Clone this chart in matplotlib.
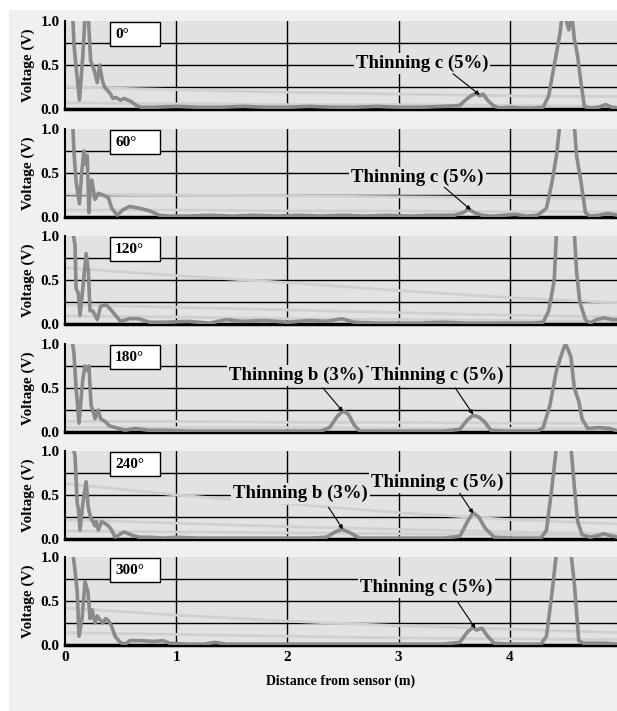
import matplotlib
matplotlib.use("Agg")
import matplotlib.pyplot as plt
from matplotlib.patches import Rectangle

plt.rcParams["font.family"] = ["Liberation Serif", "DejaVu Serif"]
plt.rcParams["font.weight"] = "bold"

# ---- data ----
angles = ["0°", "60°", "120°", "180°", "240°", "300°"]

sig_0_x = [0.07, 0.08, 0.09, 0.13, 0.16, 0.18, 0.21, 0.23, 0.26, 0.29, 0.31, 0.34, 0.36, 0.39, 0.41, 0.43, 0.46,
           0.50, 0.53, 0.57, 0.60, 0.63, 0.68,
           0.8, 1.0, 1.2, 1.4, 1.6, 1.8, 2.0, 2.2, 2.4, 2.6, 2.8, 3.0, 3.2, 3.4, 3.55, 3.6, 3.65, 3.7, 3.73, 3.76,
           3.8, 3.85, 3.9, 4.0, 4.1, 4.2, 4.3, 4.35, 4.4, 4.45, 4.47, 4.5, 4.53, 4.56, 4.58, 4.61, 4.64, 4.67,
           4.72, 4.8, 4.86, 4.92, 4.97]
sig_0_y = [1.05, 0.75, 0.6, 0.1, 0.6, 1.05, 1.05, 0.55, 0.45, 0.3, 0.5, 0.3, 0.24, 0.2, 0.17, 0.12, 0.13,
           0.1, 0.12, 0.1, 0.08, 0.05, 0.02,
           0.02, 0.03, 0.02, 0.02, 0.03, 0.02, 0.02, 0.03, 0.02, 0.02, 0.03, 0.02, 0.02, 0.03, 0.04, 0.1, 0.15, 0.18, 0.15, 0.17,
           0.1, 0.04, 0.01, 0.02, 0.01, 0.01, 0.02, 0.15, 0.5, 0.85, 1.05, 1.05, 0.9, 1.05, 0.8, 0.6, 0.3, 0.03,
           0.01, 0.02, 0.05, 0.02, 0.01]

sig_60_x = [0.07, 0.08, 0.1, 0.13, 0.15, 0.17, 0.18, 0.2, 0.215, 0.225, 0.24, 0.27, 0.3, 0.34, 0.39, 0.42, 0.47,
            0.52, 0.58, 0.67, 0.76, 0.85, 0.94, 1.1, 1.3, 1.5, 1.7, 1.9, 2.1, 2.3, 2.5, 2.7, 2.9, 3.1, 3.3, 3.5,
            3.58, 3.63, 3.68, 3.75, 3.85, 3.95, 4.05, 4.15, 4.25, 4.33, 4.38, 4.42, 4.45, 4.47, 4.5, 4.55, 4.58,
            4.6, 4.64, 4.68, 4.72, 4.8, 4.88, 4.97]
sig_60_y = [1.05, 0.75, 0.4, 0.15, 0.5, 0.75, 0.6, 0.7, 0.05, 0.3, 0.42, 0.2, 0.27, 0.25, 0.22, 0.1, 0.02,
            0.08, 0.12, 0.1, 0.07, 0.02, 0.01, 0.01, 0.02, 0.01, 0.02, 0.01, 0.02, 0.01, 0.02, 0.01, 0.02, 0.01, 0.02, 0.02,
            0.05, 0.09, 0.05, 0.02, 0.01, 0.02, 0.03, 0.01, 0.02, 0.1, 0.4, 0.7, 1.05, 1.05, 1.05, 1.05, 1.05,
            0.7, 0.4, 0.05, 0.01, 0.02, 0.04, 0.02]

sig_120_x = [0.07, 0.09, 0.1, 0.12, 0.135, 0.16, 0.19, 0.21, 0.225, 0.25, 0.29, 0.32, 0.37, 0.42, 0.5, 0.58, 0.66,
             0.76, 0.9, 1.1, 1.3, 1.45, 1.6, 1.8, 2.0, 2.2, 2.35, 2.49, 2.6, 2.8, 3.0, 3.2, 3.4, 3.6, 3.8, 4.0,
             4.2, 4.3, 4.35, 4.4, 4.42, 4.45, 4.55, 4.58, 4.6, 4.63, 4.68, 4.72, 4.78, 4.85, 4.92, 4.97]
sig_120_y = [1.05, 0.9, 0.4, 0.35, 0.1, 0.4, 0.8, 0.6, 0.15, 0.15, 0.05, 0.2, 0.22, 0.15, 0.03, 0.06, 0.06,
             0.02, 0.02, 0.03, 0.01, 0.05, 0.03, 0.04, 0.02, 0.04, 0.03, 0.06, 0.02, 0.01, 0.01, 0.01, 0.02, 0.01, 0.01, 0.01,
             0.01, 0.02, 0.15, 0.5, 1.05, 1.05, 1.05, 1.05, 0.6, 0.25, 0.05, 0.01, 0.05, 0.07, 0.05, 0.05]

sig_180_x = [0.063, 0.08, 0.1, 0.126, 0.16, 0.18, 0.2, 0.215, 0.235, 0.25, 0.27, 0.3, 0.32, 0.36, 0.4, 0.48, 0.54,
             0.63, 0.75, 0.9, 1.1, 1.3, 1.5, 1.7, 1.9, 2.1, 2.3, 2.38, 2.45, 2.5, 2.55, 2.6, 2.65, 2.8, 3.0, 3.2,
             3.4, 3.55, 3.62, 3.67, 3.72, 3.77, 3.83, 3.95, 4.1, 4.25, 4.3, 4.36, 4.42, 4.47, 4.5, 4.52, 4.55,
             4.58, 4.62, 4.65, 4.7, 4.8, 4.9, 4.97]
sig_180_y = [1.05, 0.9, 0.5, 0.1, 0.6, 0.75, 0.7, 0.75, 0.3, 0.25, 0.15, 0.25, 0.15, 0.12, 0.07, 0.04, 0.02,
             0.04, 0.02, 0.02, 0.01, 0.01, 0.01, 0.01, 0.01, 0.01, 0.01, 0.05, 0.18, 0.24, 0.2, 0.08, 0.01, 0.01, 0.01, 0.01,
             0.01, 0.03, 0.14, 0.19, 0.17, 0.12, 0.02, 0.01, 0.01, 0.01, 0.05, 0.3, 0.7, 0.9, 1.0, 0.95, 0.85,
             0.5, 0.35, 0.15, 0.04, 0.05, 0.04, 0.01]

sig_240_x = [0.07, 0.09, 0.11, 0.12, 0.135, 0.16, 0.19, 0.2, 0.21, 0.23, 0.27, 0.28, 0.3, 0.33, 0.39, 0.42, 0.45,
             0.53, 0.61, 0.67, 0.76, 0.9, 1.0, 1.2, 1.4, 1.6, 1.8, 2.0, 2.2, 2.35, 2.43, 2.49, 2.55, 2.65, 2.8,
             3.0, 3.2, 3.4, 3.55, 3.62, 3.67, 3.72, 3.78, 3.86, 4.0, 4.15, 4.28, 4.33, 4.38, 4.42, 4.45, 4.5,
             4.55, 4.58, 4.61, 4.65, 4.72, 4.8, 4.84, 4.9, 4.97]
sig_240_y = [1.05, 0.95, 0.4, 0.35, 0.1, 0.4, 0.65, 0.5, 0.35, 0.25, 0.15, 0.2, 0.1, 0.2, 0.15, 0.1, 0.02,
             0.08, 0.04, 0.02, 0.02, 0.01, 0.02, 0.01, 0.01, 0.01, 0.01, 0.01, 0.01, 0.02, 0.08, 0.11, 0.08, 0.01, 0.01,
             0.01, 0.01, 0.01, 0.03, 0.2, 0.3, 0.25, 0.12, 0.02, 0.01, 0.01, 0.01, 0.1, 0.6, 1.05, 1.05, 1.05,
             1.05, 0.6, 0.2, 0.05, 0.02, 0.04, 0.06, 0.04, 0.02]

sig_300_x = [0.07, 0.09, 0.11, 0.126, 0.153, 0.18, 0.207, 0.225, 0.243, 0.27, 0.29, 0.306, 0.342, 0.365, 0.387,
             0.41, 0.423, 0.45, 0.495, 0.54, 0.585, 0.674, 0.81, 0.88, 0.944, 1.1, 1.25, 1.35, 1.45, 1.6, 1.8,
             2.0, 2.2, 2.4, 2.6, 2.8, 3.0, 3.2, 3.4, 3.55, 3.62, 3.67, 3.7, 3.75, 3.8, 3.86, 4.0, 4.15, 4.28,
             4.33, 4.38, 4.42, 4.45, 4.5, 4.55, 4.58, 4.62, 4.66, 4.75, 4.85, 4.97]
sig_300_y = [1.05, 0.85, 0.6, 0.1, 0.3, 0.72, 0.6, 0.3, 0.4, 0.25, 0.33, 0.3, 0.25, 0.3, 0.28,
             0.24, 0.2, 0.1, 0.03, 0.01, 0.05, 0.05, 0.04, 0.05, 0.02, 0.01, 0.01, 0.03, 0.01, 0.01, 0.01,
             0.01, 0.01, 0.01, 0.01, 0.01, 0.01, 0.01, 0.01, 0.03, 0.15, 0.2, 0.17, 0.19, 0.1, 0.02, 0.01, 0.01, 0.01,
             0.1, 0.6, 1.05, 1.05, 1.05, 1.05, 0.7, 0.05, 0.02, 0.02, 0.02, 0.01]

signals_x = [sig_0_x, sig_60_x, sig_120_x, sig_180_x, sig_240_x, sig_300_x]
signals_y = [sig_0_y, sig_60_y, sig_120_y, sig_180_y, sig_240_y, sig_300_y]

# light threshold curves, sampled at these distances
thr_x = [0, 1, 2, 3, 4, 5]
thresholds = [
    [[0.25, 0.22, 0.19, 0.17, 0.15, 0.14], [0.07, 0.06, 0.05, 0.05, 0.04, 0.03]],
    [[0.26, 0.25, 0.24, 0.23, 0.22, 0.21], [0.08, 0.08, 0.07, 0.07, 0.06, 0.06]],
    [[0.64, 0.55, 0.47, 0.38, 0.30, 0.24], [0.22, 0.19, 0.16, 0.13, 0.10, 0.08],
     [0.09, 0.08, 0.06, 0.05, 0.04, 0.03]],
    [[0.12, 0.12, 0.11, 0.11, 0.10, 0.10], [0.05, 0.05, 0.05, 0.04, 0.04, 0.04]],
    [[0.63, 0.50, 0.40, 0.30, 0.22, 0.17], [0.22, 0.18, 0.14, 0.11, 0.08, 0.06],
     [0.09, 0.08, 0.07, 0.06, 0.05, 0.04]],
    [[0.42, 0.34, 0.27, 0.22, 0.18, 0.14], [0.14, 0.12, 0.10, 0.08, 0.07, 0.06]],
]

# annotations per panel: (label, text x, text y, arrow start x, arrow start y, peak x, peak y)
notes = [
    [("Thinning c (5%)", 3.21, 0.52, 3.49, 0.40, 3.73, 0.16)],
    [("Thinning c (5%)", 3.17, 0.45, 3.41, 0.34, 3.65, 0.08)],
    [],
    [("Thinning b (3%)", 2.08, 0.64, 2.32, 0.50, 2.50, 0.23),
     ("Thinning c (5%)", 3.35, 0.64, 3.51, 0.50, 3.67, 0.20)],
    [("Thinning b (3%)", 2.12, 0.52, 2.37, 0.36, 2.50, 0.11),
     ("Thinning c (5%)", 3.35, 0.64, 3.55, 0.52, 3.67, 0.29)],
    [("Thinning c (5%)", 3.25, 0.66, 3.53, 0.49, 3.69, 0.19)],
]

# ---- figure ----
W, H = 617, 711
fig = plt.figure(figsize=(W / 100, H / 100), dpi=100, facecolor="white")
fig.patches.append(Rectangle((9 / W, 0), 1, (H - 10) / H, transform=fig.transFigure,
                             facecolor="#f0f0f0", edgecolor="none", zorder=-10))

panel_bottoms = [109, 217, 324, 432, 539, 645]
left_px = 65
for i, ang in enumerate(angles):
    ax = fig.add_axes([left_px / W, 1 - panel_bottoms[i] / H, (W - left_px) / W, 88 / H])
    ax.set_facecolor("#e2e2e2")
    ax.set_xlim(0, (W - left_px) / 111.2)
    ax.set_ylim(0, 1.0)

    for yv in [0.25, 0.5, 0.75]:
        ax.axhline(yv, color="black", lw=1, zorder=1)
    for xv in [1, 2, 3, 4]:
        ax.axvline(xv, color="black", lw=1, zorder=1)

    for ty in thresholds[i]:
        ax.plot(thr_x, ty, color="#d0d0d0", lw=2, zorder=2)

    ax.plot(signals_x[i], signals_y[i], color="#8a8a8a", lw=2.6, zorder=3,
            solid_joinstyle="round")

    for label, tx, ty, ax0, ay0, px, py in notes[i]:
        ax.text(tx, ty, label, ha="center", va="center", fontsize=13.5, fontweight="bold",
                zorder=5, bbox=dict(facecolor="#e2e2e2", edgecolor="none", pad=1.5))
        ax.annotate("", xy=(px, py), xytext=(ax0, ay0), zorder=6,
                    arrowprops=dict(arrowstyle="-|>", color="black", lw=0.8,
                                    mutation_scale=6, shrinkA=0, shrinkB=0))

    ax.add_patch(Rectangle((0.0815, 0.716), 0.0906, 0.273, transform=ax.transAxes,
                           facecolor="white", edgecolor="black", lw=1, zorder=6))
    ax.text(0.091, 0.852, ang, transform=ax.transAxes, ha="left", va="center",
            fontsize=11, fontweight="bold", zorder=7)

    ax.set_yticks([0, 0.5, 1.0])
    ax.set_yticklabels(["0.0", "0.5", "1.0"], fontsize=11, fontweight="bold")
    ax.set_xticks([0, 1, 2, 3, 4])
    if i == len(angles) - 1:
        ax.set_xticklabels(["0", "1", "2", "3", "4"], fontsize=11, fontweight="bold")
        ax.set_xlabel("Distance from sensor (m)", fontsize=10, fontweight="bold", labelpad=8)
    else:
        ax.set_xticklabels([])
    ax.tick_params(length=0, pad=4)
    ax.set_ylabel("Voltage (V)", fontsize=11, fontweight="bold", labelpad=4)

    for s in ["top", "right"]:
        ax.spines[s].set_visible(False)
    ax.spines["left"].set_linewidth(1.5)
    ax.spines["bottom"].set_linewidth(2.5)

plt.savefig("out.png", dpi=100, facecolor=fig.get_facecolor())
